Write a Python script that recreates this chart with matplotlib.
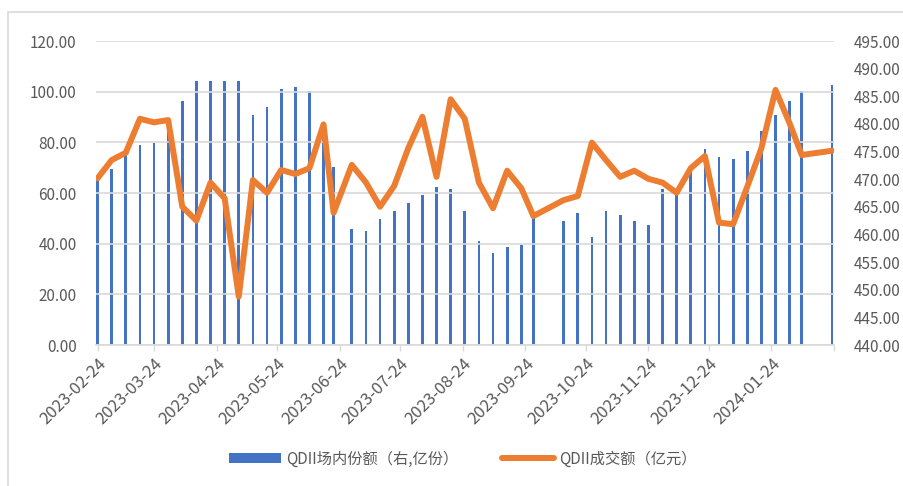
import numpy as np
import pandas as pd
import matplotlib
matplotlib.use("Agg")
import matplotlib.pyplot as plt
from matplotlib.patches import Patch, Rectangle
from matplotlib.lines import Line2D

plt.rcParams['font.family'] = ['Noto Sans CJK SC', 'DejaVu Sans']

# 每周最后一个交易日
dates = pd.to_datetime([
    "2023-02-24", "2023-03-03", "2023-03-10", "2023-03-17", "2023-03-24", "2023-03-31",
    "2023-04-07", "2023-04-14", "2023-04-21", "2023-04-28", "2023-05-05", "2023-05-12",
    "2023-05-19", "2023-05-26", "2023-06-02", "2023-06-09", "2023-06-16", "2023-06-21",
    "2023-06-30", "2023-07-07", "2023-07-14", "2023-07-21", "2023-07-28", "2023-08-04",
    "2023-08-11", "2023-08-18", "2023-08-25", "2023-09-01", "2023-09-08", "2023-09-15",
    "2023-09-22", "2023-09-28", "2023-10-13", "2023-10-20", "2023-10-27", "2023-11-03",
    "2023-11-10", "2023-11-17", "2023-11-24", "2023-12-01", "2023-12-08", "2023-12-15",
    "2023-12-22", "2023-12-29", "2024-01-05", "2024-01-12", "2024-01-19", "2024-01-26",
    "2024-02-02", "2024-02-08", "2024-02-23",
])

# QDII场内份额（右轴，亿份）
shares = [
    469.7, 471.8, 474.4, 476.2, 476.5, 480.0, 484.1, 487.8, 487.8, 487.8, 487.8, 481.6,
    483.1, 486.3, 486.7, 486.0, 480.0, 472.2, 461.0, 460.6, 462.8, 464.2, 465.7, 467.1,
    468.6, 468.2, 464.2, 458.8, 456.6, 457.7, 458.1, 463.5, 462.4, 463.9, 459.5, 464.2,
    463.5, 462.4, 461.7, 468.2, 467.3, 471.7, 475.5, 474.0, 473.7, 475.1, 478.7, 481.6,
    484.1, 486.0, 487.0,
]

# QDII成交额（左轴，亿元）
turnover = [
    65.8, 73.0, 75.9, 89.3, 87.9, 88.8, 54.6, 49.1, 64.1, 57.9, 19.1, 65.1,
    60.1, 69.1, 67.5, 69.8, 87.1, 52.2, 71.1, 64.2, 54.6, 62.8, 77.7, 90.1,
    66.4, 97.0, 89.3, 64.1, 54.0, 68.8, 61.9, 50.9, 57.2, 58.8, 79.9, 73.0,
    66.4, 68.8, 65.6, 64.1, 60.1, 69.8, 74.6, 48.3, 47.7, 62.5, 77.7, 100.7,
    87.5, 75.0, 76.7,
]

tick_dates = pd.date_range("2023-02-24", periods=13, freq=pd.DateOffset(months=1))
tick_labels = [d.strftime("%Y-%m-%d") for d in tick_dates[:-1]] + [""]

blue = "#4472C4"
orange = "#ED7D31"
grey_text = "#595959"
grid_c = "#D9D9D9"

fig = plt.figure(figsize=(9.04, 4.86), dpi=100)
ax = fig.add_axes([0.1062, 0.2901, 0.8164, 0.6255])
ax2 = ax.twinx()

# 份额柱放在右轴，成交额折线放在左轴（折线在上层）
ax.set_zorder(ax2.get_zorder() + 1)
ax.patch.set_visible(False)

ax2.bar(dates, shares, width=1.35, color=blue, zorder=2)
ax.plot(dates, turnover, color=orange, lw=4.3, solid_joinstyle="round",
        solid_capstyle="round", zorder=3)

ax.set_ylim(0, 120)
ax.set_yticks(np.arange(0, 121, 20))
ax.set_yticklabels([f"{v:.2f}" for v in np.arange(0, 121, 20)])
ax2.set_ylim(440, 495)
ax2.set_yticks(np.arange(440, 496, 5))
ax2.set_yticklabels([f"{v:.2f}" for v in np.arange(440, 496, 5)])

ax.set_xlim(dates[0] - pd.Timedelta(days=0.75), pd.Timestamp("2024-02-24"))
ax.set_xticks(tick_dates)
ax.set_xticklabels(tick_labels, rotation=45, ha="right", rotation_mode="anchor")

ax.grid(axis="y", color=grid_c, lw=1.2)
ax.set_axisbelow(True)
ax2.grid(False)

for a in (ax, ax2):
    for s in a.spines.values():
        s.set_visible(False)
ax.spines["bottom"].set_visible(True)
ax.spines["bottom"].set_color(grid_c)
ax.spines["bottom"].set_linewidth(1.2)

ax.tick_params(axis="y", length=0, pad=14, labelsize=11, labelcolor=grey_text)
ax2.tick_params(axis="y", length=0, pad=14, labelsize=11, labelcolor=grey_text)
ax.tick_params(axis="x", length=4, color=grid_c, width=1, pad=3,
               labelsize=12, labelcolor=grey_text)

# 图表外框
fig.patches.append(Rectangle((8 / 904, -0.1), 1.2, 1 - 12 / 486 + 0.1,
                             transform=fig.transFigure, fill=False,
                             edgecolor=grid_c, lw=1.2))

handles = [Patch(facecolor=blue, edgecolor="none"),
           Line2D([0], [0], color=orange, lw=4.3, solid_capstyle="round")]
labels = ["QDII场内份额（右,亿份）", "QDII成交额（亿元）"]
fig.legend(handles, labels, loc="center", bbox_to_anchor=(0.512, 0.0556), ncol=2,
           frameon=False, fontsize=11, labelcolor=grey_text, handlelength=3.4,
           handleheight=0.55, handletextpad=0.35, columnspacing=2.8)

fig.savefig("out.png", dpi=100)
